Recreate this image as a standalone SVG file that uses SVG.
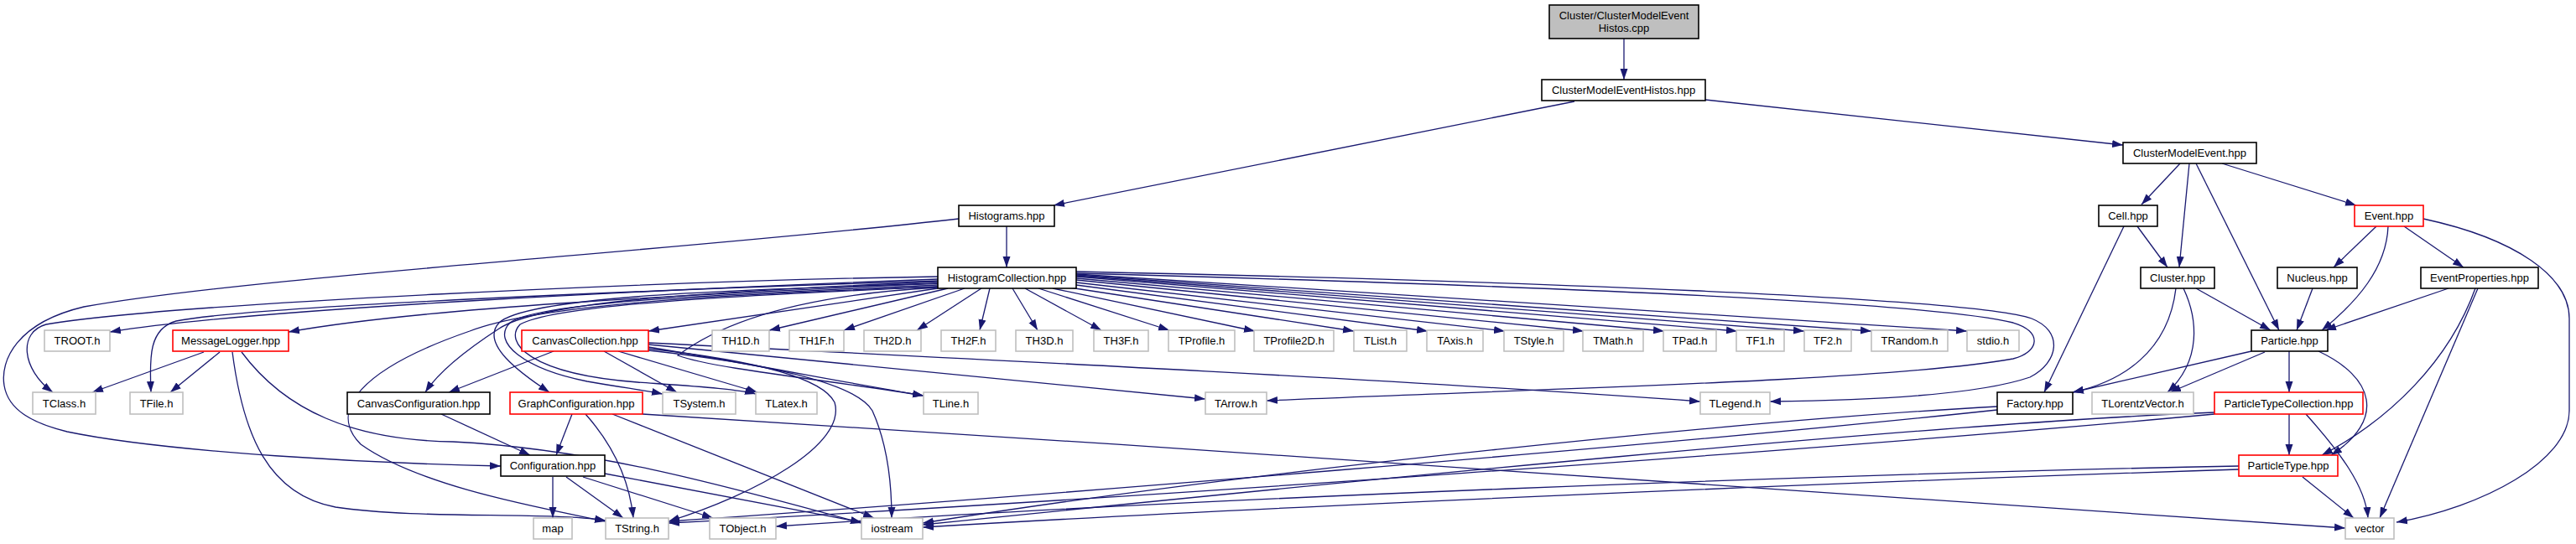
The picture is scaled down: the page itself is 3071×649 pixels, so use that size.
<svg xmlns="http://www.w3.org/2000/svg" width="3071" height="649" viewBox="0 0 3071 649">
<style>
.bg{fill:#fff}
rect.k{fill:#fff;stroke:#000;stroke-width:1.6}
rect.g{fill:#fff;stroke:#bfbfbf;stroke-width:1.6}
rect.r{fill:#fff;stroke:#ff0000;stroke-width:1.6}
rect.top{fill:#bfbfbf;stroke:#000;stroke-width:1.6}
text{font-family:"Liberation Sans",Arial,Helvetica,sans-serif;font-size:13px;fill:#000;text-anchor:middle}
#edges path{fill:none;stroke:#191970;stroke-width:1.3;marker-end:url(#ah)}
</style>
<defs>
<marker id="ah" markerUnits="userSpaceOnUse" markerWidth="14" markerHeight="10" refX="13" refY="5" orient="auto">
<path d="M0,0.5 L13,5 L0,9.5 z" fill="#191970"/>
</marker>
</defs>
<rect class="bg" x="0" y="0" width="3071" height="649"/>
<g id="edges">
<path d="M1936,46 L1936,95"/>
<path d="M1877,121 L1256,245"/>
<path d="M2033,119 L2531,173"/>
<path d="M1200,270 L1200,319"/>
<path d="M1143,261 C800,300 300,330 100,366 C20,385 0,430 5,460 C10,490 40,505 80,515 C200,540 450,553 597,556"/>
<path d="M1118,333 C800,345 300,368 131,396"/>
<path d="M1118,330 C800,335 200,362 55,387 C22,396 25,440 63,468"/>
<path d="M1118,335 C800,345 300,365 210,383 C178,392 178,425 180,468"/>
<path d="M1118,338 C800,352 500,368 344,396"/>
<path d="M1118,344 L773,395"/>
<path d="M1118,336 C800,350 640,362 595,392 C555,418 522,445 507,468"/>
<path d="M1118,338 C900,345 630,352 595,385 C572,410 620,445 655,468"/>
<path d="M1118,340 C900,350 645,358 608,385 C585,408 625,440 700,455 C740,462 770,466 790,470"/>
<path d="M1118,342 C900,352 665,362 620,387 C600,408 630,446 760,456 C830,461 880,464 901,470"/>
<path d="M1118,342 C900,350 650,360 560,395 C430,440 390,490 430,530 C500,580 640,605 722,622"/>
<path d="M1118,343 C950,352 860,385 808,424 C850,440 1000,455 1101,472"/>
<path d="M1130,344 L917,394"/>
<path d="M1150,344 L1006,394"/>
<path d="M1170,344 L1093,394"/>
<path d="M1180,344 L1168,394"/>
<path d="M1207,344 L1237,394"/>
<path d="M1222,344 L1313,394"/>
<path d="M1238,344 L1394,394"/>
<path d="M1255,344 L1496,395"/>
<path d="M1275,343 L1614,395"/>
<path d="M1283,340 L1702,395"/>
<path d="M1283,337 L1794,395"/>
<path d="M1283,334 L1888,395"/>
<path d="M1283,332 L1984,395"/>
<path d="M1283,330 L2071,395"/>
<path d="M1283,329 L2151,395"/>
<path d="M1283,328 L2231,395"/>
<path d="M1283,327 L2345,395"/>
<path d="M1283,326 C1800,340 2300,360 2400,385 C2435,395 2432,420 2400,428 C2250,455 1800,465 1510,478"/>
<path d="M1283,324 C1800,335 2350,355 2422,380 C2460,395 2455,432 2420,450 C2350,474 2200,478 2110,479"/>
<path d="M773,414 C900,435 1000,455 1101,472"/>
<path d="M773,416 C900,430 980,450 995,480 C1010,530 900,590 797,622"/>
<path d="M773,418 C900,432 1020,455 1040,490 C1058,530 1063,580 1063,618"/>
<path d="M773,411 L1437,476"/>
<path d="M773,409 C1200,430 1700,455 2027,479"/>
<path d="M660,419 L535,468"/>
<path d="M720,419 L807,468"/>
<path d="M737,419 L903,468"/>
<path d="M243,420 L110,468"/>
<path d="M262,420 L203,468"/>
<path d="M277,420 C290,520 320,590 400,605 C500,620 650,610 722,621"/>
<path d="M288,420 C340,490 420,525 540,527 C700,535 850,575 1027,624"/>
<path d="M526,494 L632,543"/>
<path d="M682,494 L663,543"/>
<path d="M698,494 C730,530 750,570 755,618"/>
<path d="M730,494 L1042,618"/>
<path d="M766,494 C1500,540 2400,600 2796,630"/>
<path d="M659,569 L659,618"/>
<path d="M675,569 L743,618"/>
<path d="M695,569 L850,618"/>
<path d="M721,565 L1027,623"/>
<path d="M2381,485 C2100,500 1500,560 1100,624"/>
<path d="M2381,489 C2000,530 1200,595 797,622"/>
<path d="M2640,492 C2300,505 1600,575 1100,626"/>
<path d="M2640,494 C2200,535 1300,598 797,624"/>
<path d="M2669,556 C2200,565 1400,595 925,628"/>
<path d="M2669,560 C2200,575 1500,605 1100,629"/>
<path d="M2599,195 L2553,244"/>
<path d="M2610,195 L2598,319"/>
<path d="M2618,195 L2717,394"/>
<path d="M2649,195 L2809,245"/>
<path d="M2548,270 L2584,319"/>
<path d="M2532,270 L2437,468"/>
<path d="M2833,270 L2782,319"/>
<path d="M2847,270 C2845,320 2810,360 2768,394"/>
<path d="M2866,270 L2937,319"/>
<path d="M2889,261 C3000,285 3063,330 3063,380 L3063,490 C3063,550 2960,605 2857,623"/>
<path d="M2618,344 L2707,394"/>
<path d="M2594,344 C2585,420 2530,455 2471,468"/>
<path d="M2603,344 C2620,380 2625,430 2584,468"/>
<path d="M2757,344 L2738,394"/>
<path d="M2919,344 L2772,394"/>
<path d="M2951,344 C2920,430 2850,500 2768,543"/>
<path d="M2954,344 L2837,618"/>
<path d="M2684,419 L2471,468"/>
<path d="M2700,420 L2587,468"/>
<path d="M2729,419 L2729,468"/>
<path d="M2764,419 C2830,450 2845,500 2779,543"/>
<path d="M2729,494 L2729,543"/>
<path d="M2749,494 C2790,540 2820,580 2823,618"/>
<path d="M2745,569 L2806,618"/>
</g>
<g id="n_cpp"><rect class="top" x="1847" y="6" width="178" height="40"/><text x="1936" y="23">Cluster/ClusterModelEvent</text><text x="1936" y="38">Histos.cpp</text></g>
<g id="n_cmeh"><rect class="k" x="1838" y="95" width="195" height="25"/><text x="1935.5" y="112">ClusterModelEventHistos.hpp</text></g>
<g id="n_cme"><rect class="k" x="2531" y="170" width="159" height="25"/><text x="2610.5" y="187">ClusterModelEvent.hpp</text></g>
<g id="n_histograms"><rect class="k" x="1143" y="245" width="114" height="25"/><text x="1200" y="262">Histograms.hpp</text></g>
<g id="n_cell"><rect class="k" x="2502" y="245" width="70" height="25"/><text x="2537" y="262">Cell.hpp</text></g>
<g id="n_event"><rect class="r" x="2807" y="245" width="82" height="25"/><text x="2848" y="262">Event.hpp</text></g>
<g id="n_hc"><rect class="k" x="1118" y="319" width="165" height="25"/><text x="1200.5" y="336">HistogramCollection.hpp</text></g>
<g id="n_cluster"><rect class="k" x="2552" y="319" width="88" height="25"/><text x="2596" y="336">Cluster.hpp</text></g>
<g id="n_nucleus"><rect class="k" x="2715" y="319" width="95" height="25"/><text x="2762.5" y="336">Nucleus.hpp</text></g>
<g id="n_eventprops"><rect class="k" x="2886" y="319" width="140" height="25"/><text x="2956" y="336">EventProperties.hpp</text></g>
<g id="n_troot"><rect class="g" x="53" y="394" width="78" height="25"/><text x="92" y="411">TROOT.h</text></g>
<g id="n_msglog"><rect class="r" x="206" y="394" width="138" height="25"/><text x="275" y="411">MessageLogger.hpp</text></g>
<g id="n_canvcoll"><rect class="r" x="622" y="394" width="151" height="25"/><text x="697.5" y="411">CanvasCollection.hpp</text></g>
<g id="n_th1d"><rect class="g" x="849" y="394" width="68" height="25"/><text x="883" y="411">TH1D.h</text></g>
<g id="n_th1f"><rect class="g" x="941" y="394" width="65" height="25"/><text x="973.5" y="411">TH1F.h</text></g>
<g id="n_th2d"><rect class="g" x="1030" y="394" width="68" height="25"/><text x="1064" y="411">TH2D.h</text></g>
<g id="n_th2f"><rect class="g" x="1122" y="394" width="65" height="25"/><text x="1154.5" y="411">TH2F.h</text></g>
<g id="n_th3d"><rect class="g" x="1211" y="394" width="68" height="25"/><text x="1245" y="411">TH3D.h</text></g>
<g id="n_th3f"><rect class="g" x="1304" y="394" width="65" height="25"/><text x="1336.5" y="411">TH3F.h</text></g>
<g id="n_tprofile"><rect class="g" x="1393" y="394" width="79" height="25"/><text x="1432.5" y="411">TProfile.h</text></g>
<g id="n_tprofile2d"><rect class="g" x="1495" y="394" width="95" height="25"/><text x="1542.5" y="411">TProfile2D.h</text></g>
<g id="n_tlist"><rect class="g" x="1614" y="394" width="63" height="25"/><text x="1645.5" y="411">TList.h</text></g>
<g id="n_taxis"><rect class="g" x="1701" y="394" width="67" height="25"/><text x="1734.5" y="411">TAxis.h</text></g>
<g id="n_tstyle"><rect class="g" x="1793" y="394" width="71" height="25"/><text x="1828.5" y="411">TStyle.h</text></g>
<g id="n_tmath"><rect class="g" x="1887" y="394" width="72" height="25"/><text x="1923" y="411">TMath.h</text></g>
<g id="n_tpad"><rect class="g" x="1983" y="394" width="63" height="25"/><text x="2014.5" y="411">TPad.h</text></g>
<g id="n_tf1"><rect class="g" x="2070" y="394" width="57" height="25"/><text x="2098.5" y="411">TF1.h</text></g>
<g id="n_tf2"><rect class="g" x="2151" y="394" width="56" height="25"/><text x="2179" y="411">TF2.h</text></g>
<g id="n_trandom"><rect class="g" x="2231" y="394" width="91" height="25"/><text x="2276.5" y="411">TRandom.h</text></g>
<g id="n_stdio"><rect class="g" x="2345" y="394" width="62" height="25"/><text x="2376" y="411">stdio.h</text></g>
<g id="n_particle"><rect class="k" x="2684" y="394" width="91" height="25"/><text x="2729.5" y="411">Particle.hpp</text></g>
<g id="n_tclass"><rect class="g" x="39" y="468" width="75" height="26"/><text x="76.5" y="486">TClass.h</text></g>
<g id="n_tfile"><rect class="g" x="155" y="468" width="63" height="26"/><text x="186.5" y="486">TFile.h</text></g>
<g id="n_canvconf"><rect class="k" x="414" y="468" width="170" height="26"/><text x="499" y="486">CanvasConfiguration.hpp</text></g>
<g id="n_graphconf"><rect class="r" x="608" y="468" width="158" height="26"/><text x="687" y="486">GraphConfiguration.hpp</text></g>
<g id="n_tsystem"><rect class="g" x="790" y="468" width="87" height="26"/><text x="833.5" y="486">TSystem.h</text></g>
<g id="n_tlatex"><rect class="g" x="901" y="468" width="73" height="26"/><text x="937.5" y="486">TLatex.h</text></g>
<g id="n_tline"><rect class="g" x="1101" y="468" width="65" height="26"/><text x="1133.5" y="486">TLine.h</text></g>
<g id="n_tarrow"><rect class="g" x="1437" y="468" width="73" height="26"/><text x="1473.5" y="486">TArrow.h</text></g>
<g id="n_tlegend"><rect class="g" x="2027" y="468" width="83" height="26"/><text x="2068.5" y="486">TLegend.h</text></g>
<g id="n_factory"><rect class="k" x="2381" y="468" width="90" height="26"/><text x="2426" y="486">Factory.hpp</text></g>
<g id="n_tlorentz"><rect class="g" x="2494" y="468" width="121" height="26"/><text x="2554.5" y="486">TLorentzVector.h</text></g>
<g id="n_ptc"><rect class="r" x="2640" y="468" width="177" height="26"/><text x="2728.5" y="486">ParticleTypeCollection.hpp</text></g>
<g id="n_configuration"><rect class="k" x="597" y="543" width="124" height="25"/><text x="659" y="560">Configuration.hpp</text></g>
<g id="n_particletype"><rect class="r" x="2669" y="543" width="118" height="25"/><text x="2728" y="560">ParticleType.hpp</text></g>
<g id="n_map"><rect class="g" x="636" y="618" width="46" height="25"/><text x="659" y="635">map</text></g>
<g id="n_tstring"><rect class="g" x="722" y="618" width="75" height="25"/><text x="759.5" y="635">TString.h</text></g>
<g id="n_tobject"><rect class="g" x="846" y="618" width="79" height="25"/><text x="885.5" y="635">TObject.h</text></g>
<g id="n_iostream"><rect class="g" x="1027" y="618" width="73" height="25"/><text x="1063.5" y="635">iostream</text></g>
<g id="n_vector"><rect class="g" x="2796" y="618" width="58" height="25"/><text x="2825" y="635">vector</text></g>
</svg>
